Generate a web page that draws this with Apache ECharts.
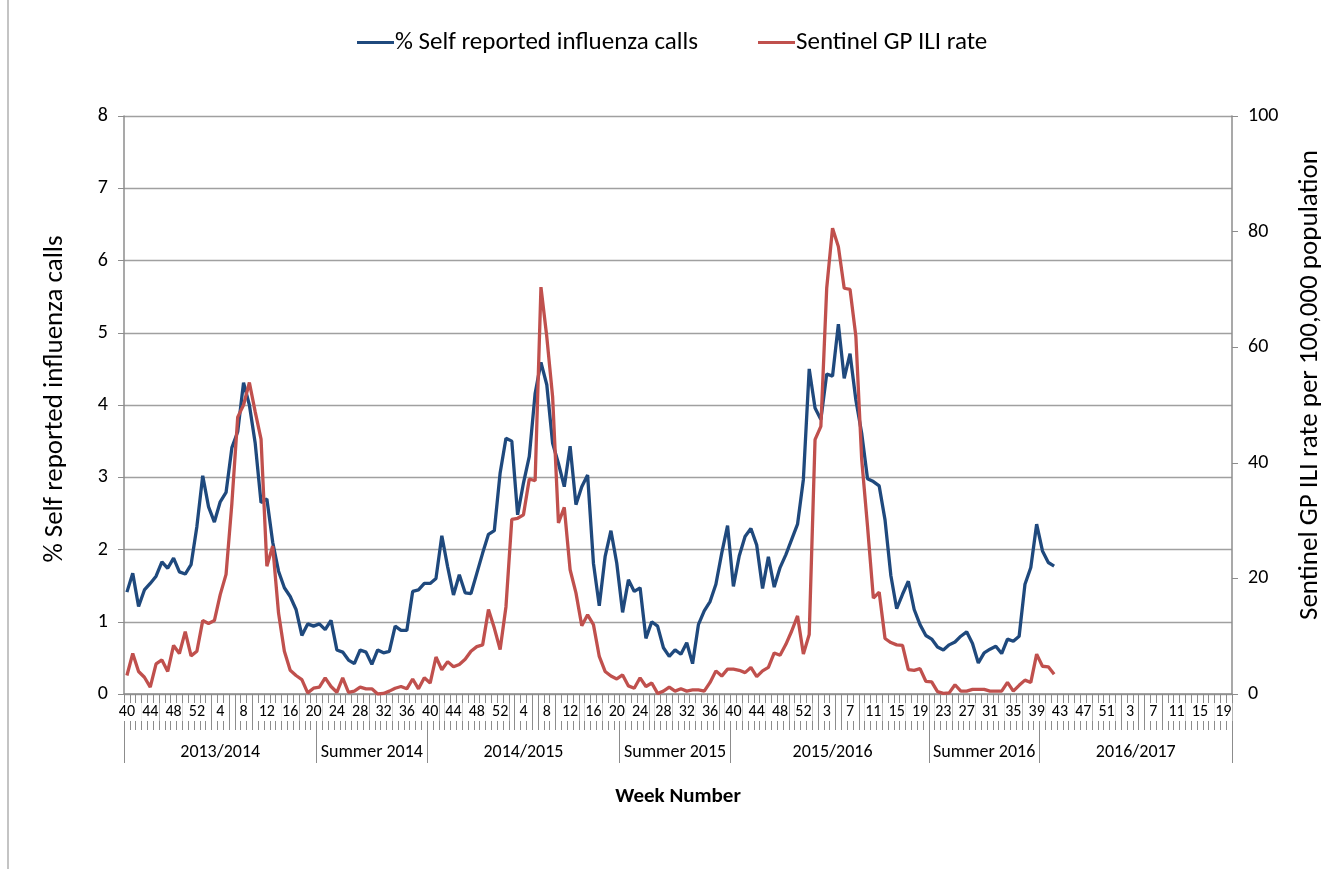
<!DOCTYPE html>
<html lang="en">
<head>
    <meta charset="UTF-8">
    <title>Influenza calls vs GP ILI rate</title>
    <script src="https://cdn.jsdelivr.net/npm/echarts@6/dist/echarts.min.js"></script>
    <style>
        html, body {
            margin: 0;
            padding: 0;
            background: #fff;
        }
        #chart {
            width: 1335px;
            height: 869px;
        }
    </style>
</head>
<body>
<div id="chart"></div>
<script>
    // iso weeks shown on the axis: [first week, last week] per calendar year
    var yearWeekRanges = [[40, 52], [1, 52], [1, 53], [1, 52], [1, 20]];

    // seasons on the second label row and how many weeks each one covers
    var seasonNames = ['2013/2014', 'Summer 2014', '2014/2015', 'Summer 2015', '2015/2016', 'Summer 2016', '2016/2017'];
    var seasonWeeks = [33, 19, 33, 19, 34, 19, 33];

    // % self reported influenza calls (left axis), from 2013 wk40
    var selfReported = [
        1.41, 1.67, 1.21, 1.44, 1.53, 1.63, 1.83, 1.74, 1.88, 1.69, 1.66, 1.79, 2.32,
        3.02, 2.59, 2.38, 2.66, 2.79, 3.41, 3.63, 4.31, 4.00, 3.47, 2.65, 2.70, 2.10,
        1.70, 1.47, 1.35, 1.17, 0.81, 0.97, 0.94, 0.97, 0.89, 1.02, 0.61, 0.58, 0.47,
        0.42, 0.61, 0.58, 0.41, 0.61, 0.57, 0.59, 0.94, 0.88, 0.88, 1.42, 1.44, 1.53,
        1.53, 1.60, 2.19, 1.76, 1.37, 1.65, 1.40, 1.39, 1.67, 1.95, 2.21, 2.26, 3.06,
        3.54, 3.50, 2.48, 2.92, 3.29, 4.16, 4.59, 4.28, 3.47, 3.19, 2.87, 3.43, 2.62,
        2.87, 3.03, 1.81, 1.22, 1.90, 2.26, 1.81, 1.13, 1.58, 1.42, 1.47, 0.77, 1.00,
        0.94, 0.64, 0.52, 0.61, 0.55, 0.71, 0.42, 0.96, 1.15, 1.28, 1.52, 1.95, 2.33,
        1.49, 1.91, 2.18, 2.29, 2.06, 1.46, 1.90, 1.48, 1.75, 1.93, 2.14, 2.35, 2.97,
        4.50, 3.96, 3.80, 4.43, 4.40, 5.12, 4.37, 4.71, 4.07, 3.61, 2.98, 2.94, 2.88,
        2.41, 1.64, 1.18, 1.38, 1.56, 1.17, 0.96, 0.81, 0.76, 0.65, 0.61, 0.68, 0.72,
        0.80, 0.86, 0.70, 0.43, 0.57, 0.62, 0.66, 0.56, 0.76, 0.73, 0.80, 1.52, 1.75,
        2.35, 1.98, 1.82, 1.77
    ];

    // sentinel GP ILI rate per 100,000 (right axis)
    var gpIliRate = [
        3.2, 7.0, 3.9, 2.9, 1.2, 5.2, 5.9, 3.9, 8.4, 7.0, 10.8, 6.6, 7.4,
        12.7, 12.2, 12.7, 17.2, 20.7, 33.0, 47.9, 50.0, 53.9, 48.8, 44.1, 22.1, 25.6,
        14.0, 7.4, 4.1, 3.2, 2.5, 0.2, 1.0, 1.2, 2.8, 1.3, 0.3, 2.8, 0.3,
        0.5, 1.2, 0.9, 0.9, 0.0, 0.1, 0.5, 1.0, 1.3, 0.9, 2.6, 0.9, 2.8,
        1.9, 6.4, 4.2, 5.6, 4.7, 5.1, 6.0, 7.4, 8.2, 8.5, 14.6, 11.4, 7.7,
        15.1, 30.2, 30.4, 31.0, 37.2, 36.9, 70.4, 61.8, 51.4, 29.6, 32.3, 21.5, 17.5,
        11.8, 13.7, 12.0, 6.5, 3.9, 3.1, 2.6, 3.3, 1.4, 1.0, 2.8, 1.3, 1.9,
        0.1, 0.5, 1.2, 0.5, 0.9, 0.5, 0.7, 0.7, 0.5, 2.0, 4.0, 3.1, 4.3,
        4.3, 4.1, 3.7, 4.6, 3.0, 4.0, 4.6, 7.1, 6.7, 8.6, 10.9, 13.5, 6.9,
        10.3, 44.0, 46.3, 70.2, 80.6, 77.4, 70.2, 70.0, 61.9, 40.6, 29.0, 16.6, 17.6,
        9.6, 8.9, 8.5, 8.4, 4.2, 4.1, 4.4, 2.2, 2.1, 0.4, 0.1, 0.2, 1.6,
        0.5, 0.5, 0.8, 0.8, 0.8, 0.5, 0.5, 0.5, 2.0, 0.5, 1.5, 2.4, 2.0,
        6.9, 4.8, 4.7, 3.4
    ];

    var weeks = [];
    yearWeekRanges.forEach(function (r) {
        for (var w = r[0]; w <= r[1]; w++) weeks.push(String(w));
    });

    // one season name per week, plus where each season starts and its middle week
    var seasonOfWeek = [];
    var seasonStarts = [];
    var seasonMiddles = [];
    var pos = 0;
    seasonWeeks.forEach(function (n, k) {
        seasonStarts.push(pos);
        seasonMiddles.push(pos + Math.floor(n / 2));
        for (var j = 0; j < n; j++) seasonOfWeek.push(seasonNames[k]);
        pos += n;
    });

    var font = 'Carlito, Lato, sans-serif';
    var gray = '#8c8c8c';

    var chart = echarts.init(document.getElementById('chart'));
    chart.setOption({
        animation: false,
        textStyle: { fontFamily: font, color: '#000' },
        legend: {
            top: 30,
            left: 357,
            padding: 0,
            icon: 'rect',
            itemWidth: 37,
            itemHeight: 3,
            itemGap: 60,
            textStyle: { fontSize: 25, fontFamily: font, color: '#000', padding: [0, 0, 0, -4] },
            data: ['% Self reported influenza calls', 'Sentinel GP ILI rate']
        },
        grid: [
            { left: 124, right: 103, top: 116, bottom: 175 },
            // thin strip under the week labels, holds the season row
            { left: 124, right: 103, top: 730, height: 33 }
        ],
        xAxis: [
            {
                type: 'category',
                data: weeks,
                boundaryGap: true,
                axisLine: { show: true, lineStyle: { color: gray, width: 1.5 } },
                axisTick: { show: true, interval: 0, length: 36, lineStyle: { color: gray, width: 1 } },
                axisLabel: {
                    show: true, interval: 3, margin: 9, fontSize: 16, fontFamily: font, color: '#000',
                    backgroundColor: '#fff', padding: [1, 1]
                }
            },
            {
                type: 'category',
                gridIndex: 1,
                data: seasonOfWeek,
                position: 'bottom',
                boundaryGap: true,
                axisLine: { show: false },
                axisTick: { show: false },
                splitLine: {
                    show: true,
                    interval: function (i) { return seasonStarts.indexOf(i) >= 0; },
                    lineStyle: { color: gray, width: 1 }
                },
                axisLabel: {
                    show: true,
                    inside: true,
                    interval: function (i) { return seasonMiddles.indexOf(i) >= 0; },
                    margin: 2, fontSize: 18, fontFamily: font, color: '#000'
                },
                name: 'Week Number',
                nameLocation: 'middle',
                nameGap: 23,
                nameTextStyle: { fontSize: 21, fontWeight: 'bold', fontFamily: font, color: '#000' }
            }
        ],
        yAxis: [
            {
                type: 'value',
                min: 0, max: 8, interval: 1,
                name: '% Self reported influenza calls',
                nameLocation: 'middle',
                nameGap: 55,
                nameTextStyle: { fontSize: 27, fontFamily: font, color: '#000', padding: [0, 0, 0, 12] },
                axisLine: { show: true, lineStyle: { color: gray, width: 1.5 } },
                axisTick: { show: true, length: 6, lineStyle: { color: gray } },
                axisLabel: { margin: 16, fontSize: 20, fontFamily: font, color: '#000' },
                splitLine: { lineStyle: { color: '#a0a0a0', width: 1.3 } }
            },
            {
                type: 'value',
                min: 0, max: 100, interval: 20,
                position: 'right',
                name: 'Sentinel GP ILI rate per 100,000 population',
                nameLocation: 'middle',
                nameRotate: 90,
                nameGap: 65,
                nameTextStyle: { fontSize: 27, fontFamily: font, color: '#000', padding: [0, 0, 0, 40] },
                axisLine: { show: true, lineStyle: { color: gray, width: 1.5 } },
                axisTick: { show: true, length: 6, lineStyle: { color: gray } },
                axisLabel: { margin: 16, fontSize: 20, fontFamily: font, color: '#000' },
                splitLine: { show: false }
            },
            {
                type: 'value',
                gridIndex: 1,
                show: false,
                min: 0, max: 1
            }
        ],
        series: [
            {
                name: '% Self reported influenza calls',
                type: 'line',
                xAxisIndex: 0,
                yAxisIndex: 0,
                data: selfReported,
                symbol: 'none',
                lineStyle: { color: '#1F497D', width: 3.3 },
                itemStyle: { color: '#1F497D' }
            },
            {
                name: 'Sentinel GP ILI rate',
                type: 'line',
                xAxisIndex: 0,
                yAxisIndex: 1,
                data: gpIliRate,
                symbol: 'none',
                lineStyle: { color: '#C0504D', width: 3.3 },
                itemStyle: { color: '#C0504D' }
            }
        ],
        graphic: [
            {
                type: 'line',
                shape: { x1: 8, y1: 0, x2: 8, y2: 869 },
                style: { stroke: '#b0b0b0', lineWidth: 1.5 }
            }
        ]
    });
</script>
</body>
</html>
